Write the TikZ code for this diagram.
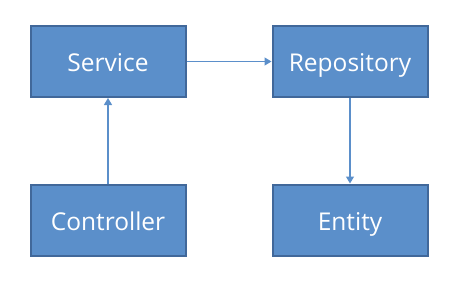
\documentclass[tikz,border=0pt]{standalone}
\usepackage{fontspec}
\setmainfont{Open Sans}
\usetikzlibrary{arrows.meta,positioning}
\definecolor{BoxBlue}{HTML}{5B8FCA}
\definecolor{EdgeBlue}{HTML}{41689A}

\begin{document}
\begin{tikzpicture}[x=1pt,y=-1pt,
    layer/.style={draw=EdgeBlue,line width=2pt,fill=BoxBlue,minimum width=155pt,minimum height=71pt,
      inner sep=0pt,text height=20pt,text depth=0pt,font=\fontsize{24.5}{28}\selectfont,text=white},
    link/.style={BoxBlue,line width=1.2pt,-{Triangle[length=7pt,width=8pt]}}]
    \useasboundingbox (0,0) rectangle (468,285);
    % Boxes
    \node[layer] (service) at (108,61.5) {Service};
    \node[layer] (repository) at (350,61.5) {Repository};
    \node[layer] (controller) at (108,220) {Controller};
    \node[layer] (entity) at (350,220) {Entity};
    % Connectors
    \draw[link] (service.east) -- (repository.west);
    \draw[link] (controller.north) -- (service.south);
    \draw[link] (repository.south) -- (entity.north);
  \end{tikzpicture}
\end{document}
